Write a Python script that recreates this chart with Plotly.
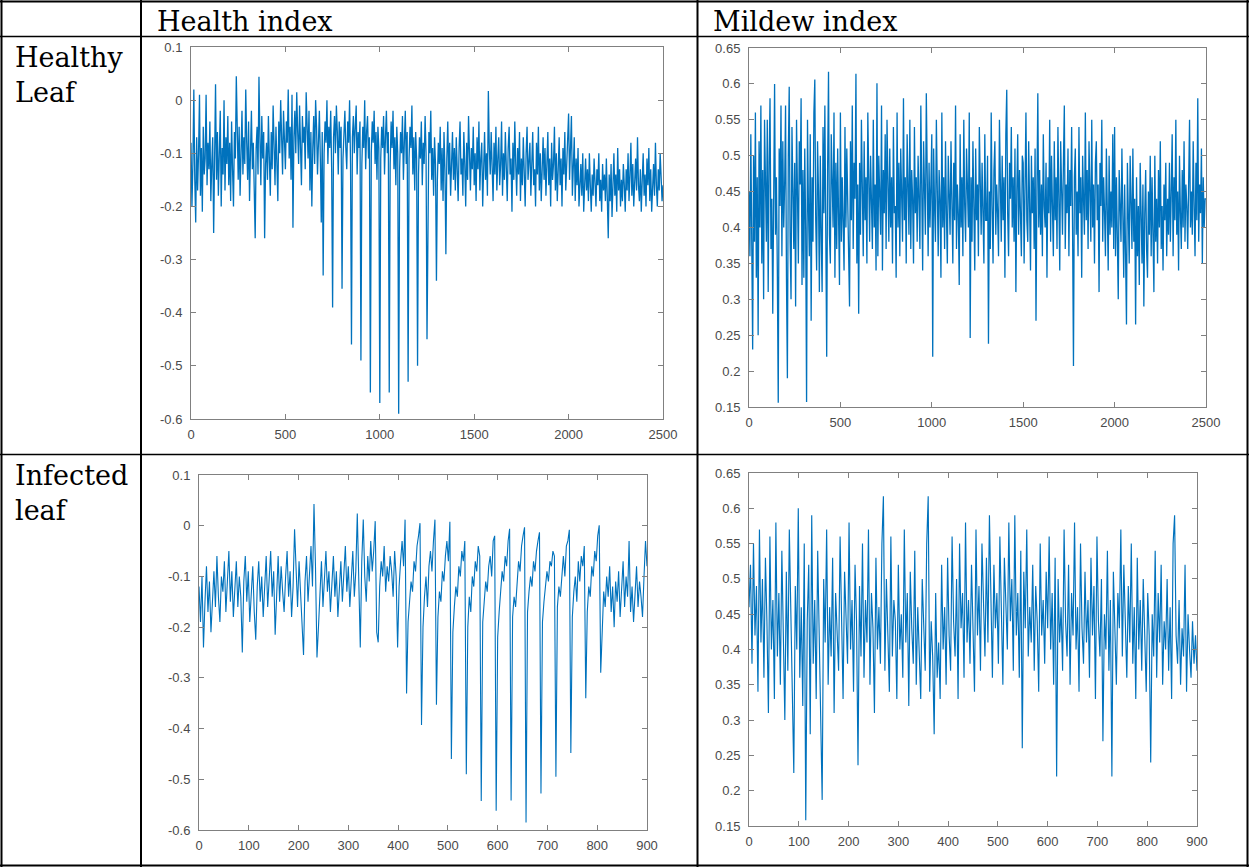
import plotly.graph_objects as go

# ---------------- data ----------------
# Healthy leaf: sampled every 5 points over 0..2500
healthy_health = [
    -0.08, -0.20, -0.12, 0.02, -0.15, -0.23, -0.07, -0.17, -0.10, 0.01, -0.18, -0.09, -0.21, -0.05, -0.14, -0.11, 0.01, -0.16, -0.08, -0.13,
    -0.04, -0.19, -0.12, -0.07, -0.25, -0.10, 0.03, -0.15, -0.06, -0.18, -0.11, -0.02, -0.20, -0.09, -0.14, 0.00, -0.17, -0.07, -0.12, -0.03,
    -0.16, -0.08, -0.19, -0.04, -0.13, -0.20, -0.06, -0.11, 0.045, -0.09, -0.15, -0.05, -0.18, -0.10, -0.02, -0.14, -0.07, -0.12, 0.02, -0.08,
    -0.15, -0.04, -0.19, -0.10, -0.02, -0.13, -0.08, -0.17, -0.26, -0.09, -0.05, -0.14, 0.044, -0.07, -0.16, -0.03, -0.11, -0.06, -0.26, -0.12,
    -0.08, -0.15, -0.03, -0.11, -0.18, -0.06, -0.13, -0.01, -0.09, -0.16, -0.05, -0.12, -0.19, -0.04, -0.10, 0.00, -0.07, -0.14, -0.02, -0.09,
    -0.13, -0.04, -0.08, 0.02, -0.11, -0.05, -0.15, 0.01, -0.24, -0.07, -0.02, -0.10, 0.015, -0.06, -0.12, -0.01, -0.09, -0.16, -0.03, -0.08,
    -0.05, -0.13, 0.015, -0.07, -0.11, -0.02, -0.17, -0.06, -0.20, -0.09, -0.03, -0.12, 0.00, -0.05, -0.14, -0.08, -0.02, -0.11, -0.23, -0.06,
    -0.33, -0.10, -0.04, -0.08, 0.00, -0.12, -0.05, -0.09, -0.02, -0.13, -0.39, -0.07, -0.03, -0.10, -0.01, -0.06, -0.14, -0.04, -0.09, -0.05,
    -0.355, -0.11, -0.06, -0.02, -0.09, -0.13, -0.04, -0.08, 0.00, -0.12, -0.46, -0.07, -0.03, -0.10, -0.05, -0.01, -0.14, -0.06, -0.09, -0.04,
    -0.49, -0.12, -0.05, -0.09, 0.00, -0.13, -0.06, -0.03, -0.11, -0.07, -0.55, -0.10, -0.04, -0.08, -0.02, -0.12, -0.06, -0.15, -0.05, -0.09,
    -0.57, -0.11, -0.05, -0.09, -0.03, -0.14, -0.07, -0.02, -0.10, -0.06, -0.55, -0.12, -0.04, -0.09, -0.02, -0.13, -0.07, -0.16, -0.05, -0.10,
    -0.59, -0.13, -0.06, -0.10, -0.03, -0.15, -0.08, -0.02, -0.12, -0.06, -0.53, -0.11, -0.05, -0.09, -0.01, -0.14, -0.07, -0.17, -0.06, -0.11,
    -0.50, -0.14, -0.07, -0.11, -0.04, -0.16, -0.08, -0.12, -0.03, -0.10, -0.45, -0.13, -0.06, -0.10, -0.02, -0.15, -0.09, -0.18, -0.07, -0.12,
    -0.34, -0.15, -0.08, -0.12, -0.05, -0.17, -0.09, -0.19, -0.06, -0.13, -0.29, -0.11, -0.04, -0.14, -0.08, -0.18, -0.10, -0.06, -0.15, -0.09,
    -0.17, -0.07, -0.13, -0.19, -0.09, -0.04, -0.14, -0.11, -0.18, -0.06, -0.12, -0.20, -0.08, -0.15, -0.03, -0.11, -0.17, -0.09, -0.13, -0.05,
    -0.16, -0.10, -0.19, -0.07, -0.13, -0.04, -0.17, -0.11, -0.08, -0.20, -0.12, -0.06, -0.15, -0.10, -0.18, 0.017, -0.09, -0.14, -0.06, -0.12,
    -0.19, -0.08, -0.14, -0.05, -0.17, -0.11, -0.07, -0.16, -0.12, -0.04, -0.18, -0.10, -0.15, -0.06, -0.13, -0.19, -0.09, -0.05, -0.14, -0.11,
    -0.21, -0.08, -0.15, -0.04, -0.12, -0.18, -0.09, -0.14, -0.06, -0.19, -0.11, -0.16, -0.07, -0.13, -0.20, -0.10, -0.05, -0.15, -0.12, -0.08,
    -0.18, -0.11, -0.06, -0.16, -0.13, -0.20, -0.08, -0.14, -0.05, -0.17, -0.10, -0.19, -0.12, -0.07, -0.15, -0.09, -0.18, -0.13, -0.06, -0.16,
    -0.11, -0.20, -0.08, -0.15, -0.12, -0.05, -0.17, -0.10, -0.19, -0.13, -0.07, -0.16, -0.11, -0.20, -0.09, -0.14, -0.06, -0.17, -0.12, -0.04,
    -0.025, -0.15, -0.10, -0.03, -0.18, -0.13, -0.07, -0.19, -0.11, -0.16, -0.09, -0.20, -0.14, -0.12, -0.18, -0.10, -0.21, -0.15, -0.11, -0.17,
    -0.13, -0.19, -0.10, -0.16, -0.21, -0.14, -0.18, -0.11, -0.17, -0.20, -0.13, -0.16, -0.10, -0.19, -0.15, -0.21, -0.12, -0.17, -0.14, -0.19,
    -0.11, -0.17, -0.26, -0.14, -0.19, -0.12, -0.22, -0.16, -0.10, -0.18, -0.14, -0.21, -0.09, -0.17, -0.13, -0.20, -0.15, -0.19, -0.12, -0.16,
    -0.21, -0.13, -0.17, -0.10, -0.19, -0.14, -0.08, -0.18, -0.12, -0.20, -0.15, -0.11, -0.17, -0.07, -0.16, -0.19, -0.13, -0.21, -0.15, -0.10,
    -0.18, -0.14, -0.20, -0.11, -0.16, -0.09, -0.19, -0.13, -0.21, -0.15, -0.12, -0.18, -0.08, -0.16, -0.20, -0.13, -0.17, -0.10, -0.15, -0.19,
    -0.16,
]

healthy_mildew = [
    0.45, 0.36, 0.53, 0.41, 0.23, 0.50, 0.38, 0.56, 0.33, 0.47, 0.25, 0.52, 0.40, 0.57, 0.35, 0.48, 0.30, 0.55, 0.42, 0.38,
    0.55, 0.31, 0.49, 0.58, 0.37, 0.44, 0.28, 0.53, 0.60, 0.39, 0.47, 0.34, 0.156, 0.51, 0.43, 0.57, 0.36, 0.52, 0.40, 0.46,
    0.57, 0.33, 0.19, 0.50, 0.596, 0.38, 0.30, 0.54, 0.44, 0.37, 0.49, 0.29, 0.55, 0.41, 0.35, 0.52, 0.46, 0.58, 0.32, 0.48,
    0.33, 0.51, 0.40, 0.157, 0.55, 0.43, 0.36, 0.53, 0.27, 0.47, 0.38, 0.56, 0.606, 0.41, 0.34, 0.52, 0.45, 0.31, 0.50, 0.39,
    0.31, 0.54, 0.42, 0.57, 0.36, 0.22, 0.48, 0.617, 0.39, 0.35, 0.53, 0.44, 0.40, 0.56, 0.33, 0.49, 0.37, 0.51, 0.43, 0.32,
    0.56, 0.38, 0.47, 0.42, 0.34, 0.54, 0.40, 0.51, 0.45, 0.36, 0.29, 0.52, 0.41, 0.57, 0.37, 0.49, 0.44, 0.614, 0.35, 0.46,
    0.28, 0.49, 0.39, 0.55, 0.43, 0.36, 0.52, 0.41, 0.47, 0.35, 0.56, 0.42, 0.38, 0.50, 0.44, 0.37, 0.55, 0.40, 0.46, 0.34,
    0.601, 0.36, 0.50, 0.43, 0.39, 0.57, 0.34, 0.48, 0.42, 0.53, 0.37, 0.55, 0.45, 0.38, 0.51, 0.40, 0.47, 0.35, 0.54, 0.42,
    0.43, 0.33, 0.56, 0.40, 0.49, 0.36, 0.51, 0.44, 0.38, 0.58, 0.41, 0.47, 0.35, 0.53, 0.42, 0.39, 0.55, 0.37, 0.48, 0.44,
    0.35, 0.54, 0.42, 0.47, 0.38, 0.50, 0.44, 0.37, 0.57, 0.41, 0.34, 0.52, 0.45, 0.39, 0.587, 0.43, 0.36, 0.49, 0.40, 0.46,
    0.53, 0.22, 0.51, 0.43, 0.38, 0.55, 0.41, 0.36, 0.48, 0.44, 0.33, 0.56, 0.40, 0.47, 0.37, 0.52, 0.42, 0.35, 0.50, 0.45,
    0.39, 0.52, 0.43, 0.35, 0.49, 0.41, 0.57, 0.37, 0.46, 0.42, 0.32, 0.53, 0.40, 0.47, 0.36, 0.55, 0.43, 0.38, 0.51, 0.44,
    0.40, 0.56, 0.246, 0.47, 0.38, 0.52, 0.43, 0.34, 0.51, 0.41, 0.46, 0.36, 0.54, 0.42, 0.39, 0.49, 0.44, 0.35, 0.53, 0.41,
    0.41, 0.50, 0.238, 0.45, 0.37, 0.56, 0.43, 0.35, 0.48, 0.52, 0.39, 0.46, 0.42, 0.36, 0.55, 0.44, 0.38, 0.50, 0.41, 0.47,
    0.33, 0.53, 0.592, 0.42, 0.36, 0.49, 0.44, 0.54, 0.40, 0.47, 0.38, 0.51, 0.31, 0.45, 0.53, 0.39, 0.48, 0.42, 0.36, 0.50,
    0.49, 0.35, 0.46, 0.56, 0.41, 0.38, 0.52, 0.44, 0.34, 0.50, 0.42, 0.47, 0.37, 0.51, 0.27, 0.45, 0.587, 0.40, 0.48, 0.39,
    0.46, 0.36, 0.53, 0.43, 0.40, 0.49, 0.33, 0.47, 0.42, 0.55, 0.38, 0.50, 0.44, 0.36, 0.52, 0.41, 0.47, 0.37, 0.54, 0.43,
    0.34, 0.52, 0.44, 0.39, 0.49, 0.57, 0.37, 0.46, 0.42, 0.51, 0.36, 0.48, 0.43, 0.54, 0.40, 0.207, 0.47, 0.51, 0.39, 0.45,
    0.36, 0.54, 0.42, 0.47, 0.33, 0.50, 0.44, 0.39, 0.56, 0.41, 0.48, 0.37, 0.52, 0.43, 0.38, 0.55, 0.40, 0.46, 0.35, 0.49,
    0.52, 0.41, 0.46, 0.31, 0.49, 0.43, 0.55, 0.38, 0.47, 0.42, 0.36, 0.51, 0.44, 0.34, 0.50, 0.39, 0.45, 0.40, 0.53, 0.37,
    0.54, 0.36, 0.47, 0.40, 0.30, 0.48, 0.43, 0.38, 0.51, 0.41, 0.33, 0.46, 0.39, 0.265, 0.49, 0.42, 0.35, 0.50, 0.40, 0.37,
    0.51, 0.38, 0.44, 0.265, 0.47, 0.36, 0.43, 0.32, 0.49, 0.40, 0.35, 0.46, 0.29, 0.42, 0.48, 0.37, 0.33, 0.45, 0.39, 0.50,
    0.36, 0.47, 0.41, 0.31, 0.50, 0.38, 0.44, 0.35, 0.48, 0.40, 0.52, 0.37, 0.43, 0.34, 0.46, 0.41, 0.49, 0.36, 0.44, 0.39,
    0.49, 0.38, 0.45, 0.53, 0.36, 0.47, 0.41, 0.55, 0.39, 0.45, 0.34, 0.50, 0.42, 0.37, 0.48, 0.40, 0.52, 0.38, 0.46, 0.43,
    0.37, 0.48, 0.55, 0.40, 0.45, 0.39, 0.52, 0.43, 0.36, 0.49, 0.41, 0.58, 0.38, 0.46, 0.42, 0.51, 0.35, 0.47, 0.40, 0.44,
    0.44,
]

# Infected leaf: sampled every 3 points over 0..900
infected_health = [
    -0.12, -0.19, -0.10, -0.24, -0.15, -0.08, -0.17, -0.11, -0.21, -0.13,
    -0.09, -0.16, -0.06, -0.14, -0.19, -0.10, -0.13, -0.07, -0.17, -0.11,
    -0.05, -0.15, -0.09, -0.18, -0.12, -0.07, -0.16, -0.10, -0.14, -0.25,
    -0.11, -0.06, -0.15, -0.09, -0.19, -0.13, -0.08, -0.17, -0.225, -0.12,
    -0.07, -0.15, -0.10, -0.18, -0.13, -0.06, -0.16, -0.11, -0.05, -0.14,
    -0.09, -0.215, -0.12, -0.06, -0.15, -0.08, -0.13, -0.17, -0.10, -0.05,
    -0.14, -0.09, -0.18, -0.12, -0.007, -0.10, -0.16, -0.07, -0.13, -0.20,
    -0.255, -0.11, -0.06, -0.15, -0.09, -0.04, -0.12, 0.043, -0.08, -0.26,
    -0.20, -0.12, -0.07, -0.16, -0.10, -0.05, -0.13, -0.09, -0.17, -0.11,
    -0.06, -0.14, -0.09, -0.18, -0.12, -0.07, -0.15, -0.10, -0.04, -0.13,
    -0.08, -0.16, -0.11, -0.05, -0.14, -0.09, 0.024, -0.12, -0.24, -0.07,
    0.012, -0.10, -0.15, -0.06, -0.11, -0.03, -0.09, -0.05, 0.009, -0.21,
    -0.23, -0.12, -0.07, -0.10, -0.04, -0.13, -0.08, -0.11, -0.06, -0.09,
    -0.14, -0.05, -0.10, -0.24, -0.12, -0.07, -0.03, -0.08, 0.012, -0.331,
    -0.19, -0.15, -0.11, -0.13, -0.07, -0.09, -0.04, -0.02, 0.005, -0.393,
    -0.20, -0.14, -0.10, -0.16, -0.08, -0.05, -0.09, -0.03, 0.012, -0.353,
    -0.18, -0.13, -0.15, -0.09, -0.11, -0.06, -0.03, -0.07, 0.008, -0.46,
    -0.21, -0.16, -0.12, -0.14, -0.08, -0.10, -0.05, -0.07, -0.03, -0.49,
    -0.20, -0.14, -0.17, -0.10, -0.12, -0.07, -0.09, -0.04, -0.06, -0.543,
    -0.19, -0.15, -0.11, -0.13, -0.08, -0.06, -0.10, -0.03, -0.02, -0.562,
    -0.22, -0.17, -0.13, -0.09, -0.11, -0.06, -0.08, -0.03, -0.006, -0.542,
    -0.18, -0.14, -0.16, -0.10, -0.07, -0.09, -0.04, -0.02, -0.003, -0.585,
    -0.17, -0.13, -0.10, -0.12, -0.07, -0.09, -0.05, -0.03, -0.013, -0.528,
    -0.19, -0.15, -0.12, -0.09, -0.11, -0.07, -0.08, -0.05, -0.06, -0.495,
    -0.16, -0.12, -0.14, -0.09, -0.06, -0.10, -0.04, -0.03, -0.008, -0.448,
    -0.18, -0.13, -0.10, -0.15, -0.07, -0.11, -0.06, -0.08, -0.04, -0.34,
    -0.17, -0.12, -0.14, -0.08, -0.10, -0.05, -0.07, -0.02, 0.001, -0.29,
    -0.19, -0.13, -0.16, -0.10, -0.14, -0.08, -0.17, -0.12, -0.20, -0.11,
    -0.15, -0.09, -0.18, -0.12, -0.07, -0.16, -0.10, -0.14, -0.03, -0.17,
    -0.12, -0.19, -0.13, -0.08, -0.16, -0.11, -0.14, -0.18, -0.10, -0.03,
    -0.08,
]

infected_mildew = [
    0.46, 0.52, 0.38, 0.55, 0.42, 0.49, 0.34, 0.57, 0.41, 0.50,
    0.36, 0.53, 0.44, 0.31, 0.56, 0.40, 0.47, 0.33, 0.58, 0.39,
    0.48, 0.35, 0.54, 0.42, 0.30, 0.51, 0.37, 0.57, 0.43, 0.34,
    0.225, 0.49, 0.40, 0.60, 0.36, 0.46, 0.32, 0.55, 0.158, 0.44,
    0.52, 0.28, 0.59, 0.38, 0.47, 0.33, 0.54, 0.42, 0.36, 0.187,
    0.50, 0.41, 0.57, 0.35, 0.46, 0.39, 0.53, 0.31, 0.48, 0.43,
    0.37, 0.56, 0.42, 0.33, 0.51, 0.45, 0.38, 0.58, 0.40, 0.47,
    0.34, 0.52, 0.44, 0.236, 0.49, 0.39, 0.55, 0.36, 0.47, 0.41,
    0.57, 0.35, 0.48, 0.43, 0.31, 0.53, 0.40, 0.46, 0.38, 0.55,
    0.617, 0.37, 0.50, 0.42, 0.34, 0.56, 0.39, 0.47, 0.44, 0.33,
    0.52, 0.40, 0.45, 0.36, 0.57, 0.41, 0.48, 0.32, 0.51, 0.43,
    0.38, 0.54, 0.35, 0.46, 0.40, 0.33, 0.50, 0.42, 0.37, 0.55,
    0.617, 0.34, 0.44, 0.39, 0.28, 0.48, 0.36, 0.41, 0.33, 0.52,
    0.40, 0.46, 0.35, 0.53, 0.42, 0.37, 0.56, 0.44, 0.39, 0.50,
    0.33, 0.55, 0.43, 0.48, 0.36, 0.58, 0.41, 0.47, 0.38, 0.52,
    0.44, 0.34, 0.57, 0.42, 0.49, 0.37, 0.55, 0.45, 0.39, 0.53,
    0.41, 0.59, 0.46, 0.36, 0.52, 0.43, 0.48, 0.38, 0.56, 0.44,
    0.35, 0.53, 0.47, 0.40, 0.58, 0.44, 0.50, 0.37, 0.59, 0.42,
    0.48, 0.36, 0.54, 0.26, 0.51, 0.43, 0.57, 0.39, 0.46, 0.41,
    0.52, 0.37, 0.49, 0.44, 0.34, 0.55, 0.42, 0.47, 0.38, 0.51,
    0.43, 0.56, 0.40, 0.48, 0.35, 0.53, 0.22, 0.50, 0.41, 0.46,
    0.37, 0.57, 0.44, 0.39, 0.52, 0.35, 0.48, 0.42, 0.58, 0.40,
    0.46, 0.34, 0.55, 0.43, 0.38, 0.51, 0.41, 0.47, 0.36, 0.53,
    0.42, 0.49, 0.33, 0.56, 0.44, 0.39, 0.50, 0.27, 0.45, 0.40,
    0.54, 0.37, 0.47, 0.22, 0.51, 0.42, 0.35, 0.48, 0.43, 0.57,
    0.39, 0.52, 0.44, 0.36, 0.49, 0.41, 0.55, 0.38, 0.46, 0.33,
    0.53, 0.40, 0.47, 0.37, 0.50, 0.43, 0.34, 0.48, 0.42, 0.24,
    0.45, 0.39, 0.54, 0.36, 0.48, 0.41, 0.52, 0.35, 0.44, 0.40,
    0.50, 0.37, 0.46, 0.33, 0.55, 0.59, 0.42, 0.38, 0.47, 0.35,
    0.43, 0.39, 0.52, 0.34, 0.45, 0.40, 0.36, 0.44, 0.38, 0.42,
    0.37,
]

healthy_step = 5
infected_step = 3
healthy_x = [i * healthy_step for i in range(len(healthy_health))]
healthy_x_m = [i * healthy_step for i in range(len(healthy_mildew))]
infected_x = [i * infected_step for i in range(len(infected_health))]
infected_x_m = [i * infected_step for i in range(len(infected_mildew))]

health_ticks = [0.1, 0, -0.1, -0.2, -0.3, -0.4, -0.5, -0.6]
health_labels = ["0.1", "0", "-0.1", "-0.2", "-0.3", "-0.4", "-0.5", "-0.6"]
mildew_ticks = [0.65, 0.6, 0.55, 0.5, 0.45, 0.4, 0.35, 0.3, 0.25, 0.2, 0.15]
mildew_labels = ["0.65", "0.6", "0.55", "0.5", "0.45", "0.4", "0.35", "0.3", "0.25", "0.2", "0.15"]
healthy_xticks = [0, 500, 1000, 1500, 2000, 2500]
infected_xticks = [0, 100, 200, 300, 400, 500, 600, 700, 800, 900]

col_headers = ["Health index", "Mildew index"]
row_headers = ["Healthy<br>Leaf", "Infected<br>leaf"]

# ---------------- figure ----------------
W, H = 1249, 867
LINE = "#0072BD"
AXC = "#808080"
TXC = "#4a4a4a"


def px_x(p):
    return p / W


def px_y(p):
    return 1 - p / H


panels = [
    (healthy_x, healthy_health, 191, 663, 47, 419, [0, 2500], [-0.6, 0.1],
     healthy_xticks, health_ticks, health_labels, 1.3),
    (healthy_x_m, healthy_mildew, 749, 1206, 48, 407, [0, 2500], [0.15, 0.65],
     healthy_xticks, mildew_ticks, mildew_labels, 1.3),
    (infected_x, infected_health, 199, 647, 475, 830, [0, 900], [-0.6, 0.1],
     infected_xticks, health_ticks, health_labels, 1.1),
    (infected_x_m, infected_mildew, 749, 1197, 473, 826, [0, 900], [0.15, 0.65],
     infected_xticks, mildew_ticks, mildew_labels, 1.15),
]

fig = go.Figure()
layout_axes = {}
for i, (xs, ys, l, r, t, b, xr, yr, xt, yt, yl, lw) in enumerate(panels, start=1):
    sfx = "" if i == 1 else str(i)
    fig.add_trace(go.Scatter(
        x=xs, y=ys, mode="lines",
        line=dict(color=LINE, width=lw),
        xaxis="x" + sfx, yaxis="y" + sfx, showlegend=False,
        hoverinfo="skip",
    ))
    common = dict(
        showline=True, linecolor=AXC, linewidth=1, mirror="ticks",
        ticks="inside", ticklen=5, tickwidth=1, tickcolor=AXC,
        showgrid=False, zeroline=False, automargin=False,
        tickfont=dict(family="Liberation Sans, Arial, sans-serif", size=13, color=TXC),
        fixedrange=True,
    )
    layout_axes["xaxis" + sfx] = dict(
        domain=[px_x(l), px_x(r)], range=xr, anchor="y" + sfx,
        tickmode="array", tickvals=xt, ticktext=[str(v) for v in xt],
        ticklabelstandoff=3, **common)
    layout_axes["yaxis" + sfx] = dict(
        domain=[px_y(b), px_y(t)], range=yr, anchor="x" + sfx,
        tickmode="array", tickvals=yt, ticktext=yl,
        ticklabelstandoff=5, **common)

fig.update_layout(**layout_axes)

# table grid lines
shapes = []


def hline(y, x0, x1, w=1.5):
    shapes.append(dict(type="line", xref="paper", yref="paper",
                       x0=px_x(x0), x1=px_x(x1), y0=px_y(y), y1=px_y(y),
                       line=dict(color="black", width=w)))


def vline(x, y0, y1, w=1.5):
    shapes.append(dict(type="line", xref="paper", yref="paper",
                       x0=px_x(x), x1=px_x(x), y0=px_y(y0), y1=px_y(y1),
                       line=dict(color="black", width=w)))


hline(1.5, 0, W, 2)
hline(36.5, 0, W, 1.5)
hline(454.5, 0, W, 1.5)
hline(865.5, 0, W, 2)
vline(1.5, 0, H, 2)
vline(141, 0, H, 2)
vline(697.5, 0, H, 2)
vline(1247.5, 0, H, 2)

annotations = []
SERIF = "DejaVu Serif, Liberation Serif, serif"
for txt, xpx in zip(col_headers, [155, 711]):
    annotations.append(dict(text=txt, xref="paper", yref="paper",
                            x=px_x(xpx), y=px_y(21), xanchor="left", yanchor="middle",
                            showarrow=False, font=dict(family=SERIF, size=27, color="black")))
for txt, ypx in zip(row_headers, [40, 458]):
    annotations.append(dict(text=txt, xref="paper", yref="paper",
                            x=px_x(13), y=px_y(ypx), xanchor="left", yanchor="top",
                            align="left", showarrow=False,
                            font=dict(family=SERIF, size=27, color="black")))

fig.update_layout(
    width=W, height=H, autosize=False,
    margin=dict(l=0, r=0, t=0, b=0, pad=0, autoexpand=False),
    paper_bgcolor="white", plot_bgcolor="white",
    shapes=shapes, annotations=annotations,
    showlegend=False,
)

fig.write_html("out.html", config={"displayModeBar": False})
